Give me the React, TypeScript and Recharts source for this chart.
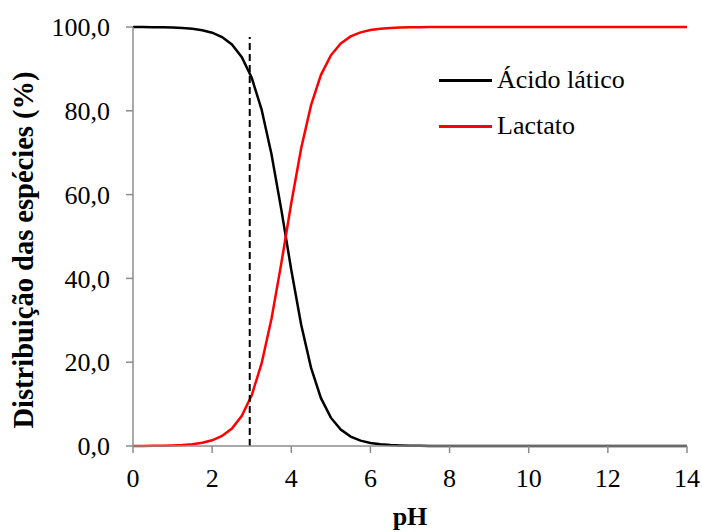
import { Label, Legend, Line, LineChart, XAxis, YAxis } from 'recharts'

// pH sampled every 0.25
const ph = [
  0, 0.25, 0.5, 0.75, 1, 1.25, 1.5, 1.75, 2, 2.25, 2.5, 2.75, 3, 3.25, 3.5, 3.75,
  4, 4.25, 4.5, 4.75, 5, 5.25, 5.5, 5.75, 6, 6.25, 6.5, 6.75, 7, 7.25, 7.5, 7.75,
  8, 8.25, 8.5, 8.75, 9, 9.25, 9.5, 9.75, 10, 10.25, 10.5, 10.75, 11, 11.25, 11.5,
  11.75, 12, 12.25, 12.5, 12.75, 13, 13.25, 13.5, 13.75, 14,
]

const acidoLatico = [
  99.99, 99.98, 99.96, 99.92, 99.86, 99.76, 99.56, 99.23, 98.64, 97.61, 95.82, 92.8,
  87.88, 80.3, 69.61, 56.3, 42.02, 28.94, 18.64, 11.42, 6.76, 3.92, 2.24, 1.27, 0.72,
  0.41, 0.23, 0.13, 0.07, 0.04, 0.02, 0.01, 0.01, 0, 0, 0, 0, 0, 0, 0, 0, 0, 0, 0, 0,
  0, 0, 0, 0, 0, 0, 0, 0, 0, 0, 0, 0,
]

const lactato = [
  0.01, 0.02, 0.04, 0.08, 0.14, 0.24, 0.44, 0.77, 1.36, 2.39, 4.18, 7.2, 12.12, 19.7,
  30.39, 43.7, 57.98, 71.06, 81.36, 88.58, 93.24, 96.08, 97.76, 98.73, 99.28, 99.59,
  99.77, 99.87, 99.93, 99.96, 99.98, 99.99, 99.99, 100, 100, 100, 100, 100, 100, 100,
  100, 100, 100, 100, 100, 100, 100, 100, 100, 100, 100, 100, 100, 100, 100, 100, 100,
]

// vertical dashed marker (pH ~ 2.95)
const markerPh = [2.95, 2.95]
const markerVal = [0, 97.6]

const xTicks = [0, 2, 4, 6, 8, 10, 12, 14]
const yTicks = [0, 20, 40, 60, 80, 100]

const series = [
  { key: 'acido', name: 'Ácido lático', color: '#000000', values: acidoLatico },
  { key: 'lactato', name: 'Lactato', color: '#ff0000', values: lactato },
]

const axisColor = '#8c8c8c'
const font = '"Liberation Serif", "Times New Roman", serif'

const seriesData = series.map((s) => ph.map((p, i) => ({ ph: p, v: s.values[i] })))
const markerData = markerPh.map((p, i) => ({ ph: p, v: markerVal[i] }))

const fmt = (v: number) => v.toFixed(1).replace('.', ',')

function LegendBox() {
  return (
    <div style={{ fontFamily: font, fontSize: 26, color: '#000' }}>
      {series.map((s) => (
        <div key={s.key} style={{ display: 'flex', alignItems: 'center', height: 46 }}>
          <div style={{ width: 53, height: 3, background: s.color, marginRight: 5 }} />
          <span style={{ lineHeight: 1 }}>{s.name}</span>
        </div>
      ))}
    </div>
  )
}

// y title sits a little below the plot's centre, as in the original
function YTitle() {
  return (
    <text
      transform="translate(33, 250) rotate(-90)"
      textAnchor="middle"
      fontSize={28.5}
      fontWeight="bold"
      fontFamily={font}
      fill="#000"
    >
      Distribuição das espécies (%)
    </text>
  )
}

export default function App() {
  return (
    <div style={{ position: 'absolute', left: 0, top: 0, background: '#fff' }}>
      <LineChart
        width={702}
        height={532}
        margin={{ top: 27, right: 15, bottom: 0, left: 0 }}
        style={{ fontFamily: font }}
      >
        <XAxis
          dataKey="ph"
          type="number"
          domain={[0, 14]}
          ticks={xTicks}
          allowDuplicatedCategory={false}
          height={86}
          tickSize={7}
          tickMargin={16}
          stroke={axisColor}
          strokeWidth={1.5}
          tick={{ fill: '#000', fontSize: 26, fontFamily: font }}
        >
          <Label
            value="pH"
            position="insideBottom"
            offset={7}
            style={{ fontSize: 26, fontWeight: 'bold', fill: '#000', fontFamily: font }}
          />
        </XAxis>
        <YAxis
          type="number"
          domain={[0, 100]}
          ticks={yTicks}
          width={133}
          tickSize={7}
          tickMargin={16}
          stroke={axisColor}
          strokeWidth={1.5}
          tickFormatter={fmt}
          tick={{ fill: '#000', fontSize: 26, fontFamily: font }}
        >
          <Label content={() => <YTitle />} />
        </YAxis>
        <Legend
          layout="vertical"
          align="center"
          verticalAlign="middle"
          wrapperStyle={{ left: 439, top: 57, width: 220 }}
          content={() => <LegendBox />}
        />
        {series.map((s, i) => (
          <Line
            key={s.key}
            data={seriesData[i]}
            dataKey="v"
            name={s.name}
            type="linear"
            stroke={s.color}
            strokeWidth={2.5}
            dot={false}
            activeDot={false}
            isAnimationActive={false}
          />
        ))}
        <Line
          data={markerData}
          dataKey="v"
          name="marker"
          legendType="none"
          type="linear"
          stroke="#000"
          strokeWidth={2}
          strokeDasharray="7 4"
          dot={false}
          activeDot={false}
          isAnimationActive={false}
        />
      </LineChart>
    </div>
  )
}
